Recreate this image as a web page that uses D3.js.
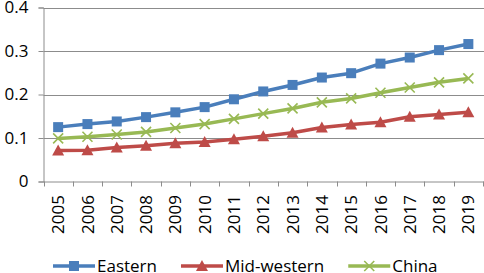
<!DOCTYPE html>
<html>
<head>
<meta charset="utf-8">
<script src="https://cdn.jsdelivr.net/npm/d3@7"></script>
<style>
  body { margin: 0; background: #fff; }
  text { font-family: "Open Sans", sans-serif; fill: #000; }
</style>
</head>
<body>
<div class="chart"></div>
<script>
const years = ["2005","2006","2007","2008","2009","2010","2011","2012","2013","2014","2015","2016","2017","2018","2019"];
const eastern = [0.125,0.132,0.138,0.148,0.159,0.171,0.189,0.207,0.222,0.239,0.249,0.271,0.285,0.302,0.316];
const midWestern = [0.071,0.072,0.078,0.082,0.088,0.091,0.097,0.104,0.112,0.124,0.131,0.136,0.149,0.154,0.159];
const china = [0.099,0.103,0.108,0.114,0.123,0.132,0.144,0.156,0.168,0.182,0.191,0.204,0.216,0.228,0.237];
const yTicks = [0, 0.1, 0.2, 0.3, 0.4];

const series = [
	{ name: "Eastern", values: eastern, color: "#4a7ebb", marker: "square" },
	{ name: "Mid-western", values: midWestern, color: "#be4b48", marker: "triangle" },
	{ name: "China", values: china, color: "#98b954", marker: "x" }
];

const W = 484, H = 273;
const svg = d3.select(".chart").append("svg")
	.attr("width", W).attr("height", H);

const plot = { left: 43.5, right: 483, top: 7.5, bottom: 181.5 };

const x = d3.scaleBand().domain(years).range([plot.left, plot.right]);
const y = d3.scaleLinear().domain([0, 0.4]).range([plot.bottom, plot.top]);

// gridlines
svg.append("g")
	.selectAll("line")
	.data(yTicks.filter(d => d > 0)).enter()
	.append("line")
	.attr("x1", plot.left).attr("x2", W)
	.attr("y1", d => Math.round(y(d)) + 0.5).attr("y2", d => Math.round(y(d)) + 0.5)
	.attr("stroke", "#8c8c8c").attr("stroke-width", 1);

// y axis
const yAxis = svg.append("g")
	.attr("transform", `translate(${plot.left},0)`)
	.call(d3.axisLeft(y).tickValues(yTicks).tickSize(5).tickPadding(10)
		.tickFormat(d => d === 0 ? "0" : d3.format(".1f")(d)));
yAxis.select(".domain").attr("stroke", "#8c8c8c");
yAxis.selectAll(".tick line").attr("stroke", "#8c8c8c");
yAxis.selectAll(".tick text").style("font-size", "17px").attr("fill", "#000");

// x axis
const xAxis = svg.append("g")
	.attr("transform", `translate(0,${plot.bottom})`)
	.call(d3.axisBottom(x).tickSize(0).tickFormat(""));
xAxis.select(".domain").attr("stroke", "#8c8c8c").attr("d", `M${plot.left},0.5H${W}`);

// x tick marks at category boundaries
svg.append("g")
	.selectAll("line")
	.data(years.concat(["end"])).enter()
	.append("line")
	.attr("x1", (d, i) => Math.round(plot.left + i * x.step()) + 0.5)
	.attr("x2", (d, i) => Math.round(plot.left + i * x.step()) + 0.5)
	.attr("y1", plot.bottom).attr("y2", plot.bottom + 5)
	.attr("stroke", "#8c8c8c");

// rotated year labels
svg.append("g")
	.selectAll("text")
	.data(years).enter()
	.append("text")
	.text(d => d)
	.attr("text-anchor", "end")
	.attr("transform", d => `translate(${x(d) + x.bandwidth() / 2},195) rotate(-90)`)
	.attr("dy", "0.36em")
	.style("font-size", "17px");

// marker drawing
function drawMarker(g, type, color) {
	if (type === "square") {
		g.append("rect").attr("x", -5).attr("y", -5).attr("width", 10).attr("height", 10)
			.attr("fill", color);
	} else if (type === "triangle") {
		g.append("path").attr("d", "M0,-6L6,5H-6Z").attr("fill", color);
	} else {
		g.append("path").attr("d", "M-5,-5L5,5M-5,5L5,-5")
			.attr("stroke", color).attr("stroke-width", 1.6).attr("fill", "none");
	}
}

const line = d3.line()
	.x((d, i) => x(years[i]) + x.bandwidth() / 2)
	.y(d => y(d));

series.forEach(s => {
	svg.append("path")
		.attr("d", line(s.values))
		.attr("fill", "none")
		.attr("stroke", s.color)
		.attr("stroke-width", 3.5)
		.attr("stroke-linejoin", "round");

	svg.append("g")
		.selectAll("g")
		.data(s.values).enter()
		.append("g")
		.attr("transform", (d, i) => `translate(${x(years[i]) + x.bandwidth() / 2},${y(d)})`)
		.each(function() { drawMarker(d3.select(this), s.marker, s.color); });
});

// legend
const legend = svg.append("g").attr("transform", "translate(53,266)");
let lx = 0;
series.forEach(s => {
	const item = legend.append("g").attr("transform", `translate(${lx},0)`);
	item.append("line").attr("x1", 0).attr("x2", 42).attr("y1", 0).attr("y2", 0)
		.attr("stroke", s.color).attr("stroke-width", 3.5);
	drawMarker(item.append("g").attr("transform", "translate(21,0)"), s.marker, s.color);
	const t = item.append("text").text(s.name)
		.attr("x", 44).attr("dy", "0.36em")
		.style("font-size", "17px");
	lx += 44 + t.node().getComputedTextLength() + 24;
});
</script>
</body>
</html>
